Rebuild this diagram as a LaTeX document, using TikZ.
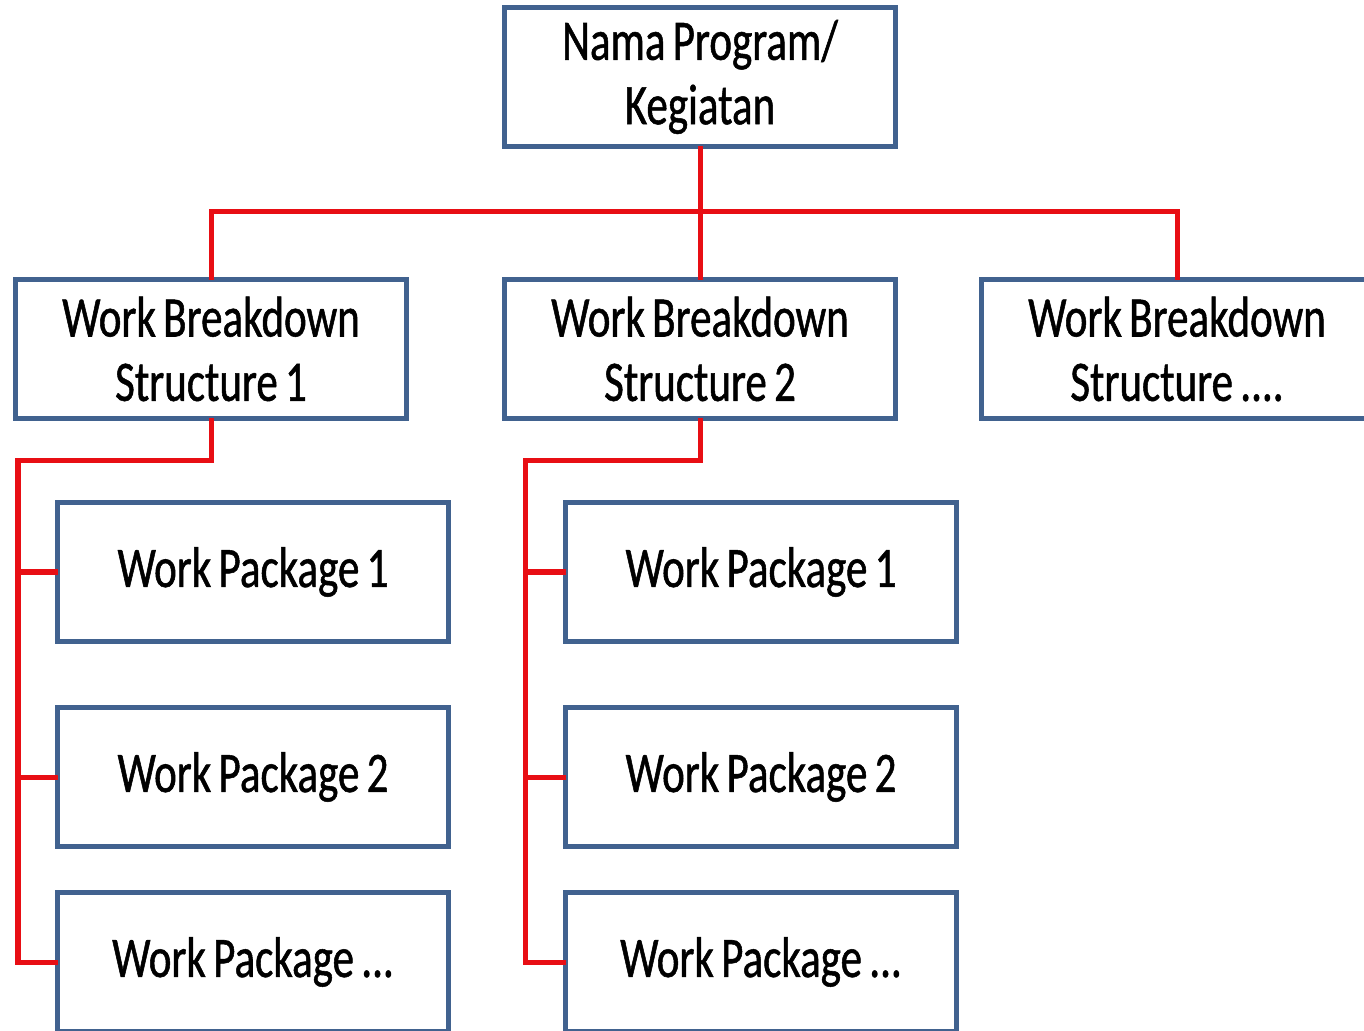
\documentclass[tikz,border=0pt]{standalone}
\usepackage{fontspec}
\setmainfont{Carlito}[FakeStretch=0.75,FakeBold=0.9,WordSpace=0.75]
\usepackage{tikz}
\definecolor{boxblue}{RGB}{65,98,143}
\definecolor{linkred}{RGB}{232,14,20}

\begin{document}
\begin{tikzpicture}[x=0.01cm,y=-0.01cm,
    box/.style={draw=boxblue,line width=0.05cm,fill=white,rectangle,inner sep=0pt,outer sep=0pt,
      minimum width=3.9cm,minimum height=1.38cm,align=center,
      font=\fontsize{16.3pt}{18.3pt}\selectfont},
    link/.style={draw=linkred,line width=0.05cm}]
                \useasboundingbox (0,0) rectangle (1364,1031);
                \clip (0,0) rectangle (1364,1031);
                % The boxes
                \node[box] (top)  at (700,77)  {Nama Program/\\Kegiatan};
                \node[box] (wbsA) at (211,349) {Work Breakdown\\Structure 1};
                \node[box] (wbsB) at (700,349) {Work Breakdown\\Structure 2};
                \node[box] (wbsC) at (1177,349) {Work Breakdown\\Structure ....};
                \foreach \col/\xx in {A/253,B/761}
                {
                  \node[box] (wp\col1) at (\xx,572) {Work Package 1};
                  \node[box] (wp\col2) at (\xx,777) {Work Package 2};
                  \node[box] (wp\col3) at (\xx,962) {Work Package ...};
                }
                % The red links
                \draw[link] (top.south) -- (wbsB.north);
                \draw[link] (wbsA.north) -- ++(0,-68) -| (wbsC.north);
                \coordinate (railA) at (18,461);
                \coordinate (railB) at (525,461);
                \foreach \col/\up in {A/wbsA,B/wbsB}
                {
                  \draw[link] (\up.south) |- (rail\col) -- (rail\col |- wp\col3.west) -- (wp\col3.west);
                  \draw[link] (rail\col |- wp\col1.west) -- (wp\col1.west);
                  \draw[link] (rail\col |- wp\col2.west) -- (wp\col2.west);
                }
            \end{tikzpicture}
\end{document}
